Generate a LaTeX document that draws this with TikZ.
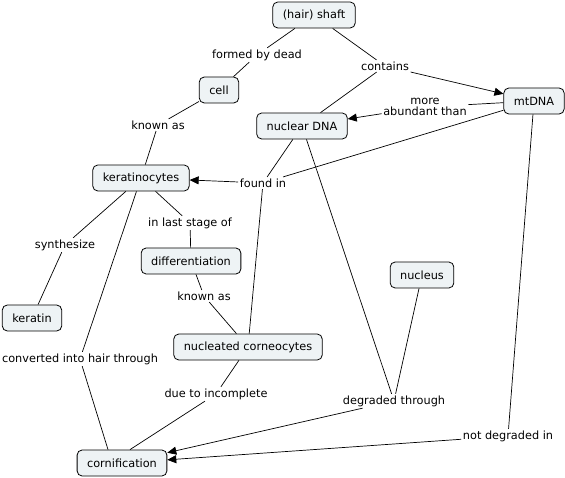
\documentclass[tikz,border=0pt]{standalone}
\usepackage{fontspec}
\setmainfont{DejaVu Sans}
\usepackage{tikz}
\usetikzlibrary{arrows.meta}

\definecolor{conceptfill}{HTML}{EEF3F5}

\begin{document}
\begin{tikzpicture}[x=1pt,y=-1pt,font=\fontsize{11.3}{13}\selectfont,
    concept/.style={draw,fill=conceptfill,rounded corners=5pt,line width=0.8pt,
      minimum height=26pt,inner xsep=10pt},
    phrase/.style={inner sep=1.5pt,align=center},
    link/.style={line width=0.7pt},
    linkto/.style={line width=0.7pt,-{Triangle[length=9pt,width=8pt]}}]
  \useasboundingbox (0,0) rectangle (565,478);

  % concepts
  \node[concept] (shaft) at (314,15) {(hair) shaft};
  \node[concept] (cell) at (219,90) {cell};
  \node[concept] (mtdna) at (534,101) {mtDNA};
  \node[concept] (ndna) at (302,126) {nuclear DNA};
  \node[concept] (kerat) at (141,178) {keratinocytes};
  \node[concept] (diff) at (191,261) {differentiation};
  \node[concept] (nucleus) at (422,275) {nucleus};
  \node[concept] (keratin) at (32,318) {keratin};
  \node[concept] (ncorneo) at (248,347) {nucleated corneocytes};
  \node[concept] (cornif) at (122,463) {cornification};

  % linking phrases
  \node[phrase] (formed) at (257,55) {formed by dead};
  \node[phrase] (contains) at (385,66) {contains};
  \node[phrase] (abundant) at (425,107) {more\\[-2pt]abundant than};
  \node[phrase] (knownA) at (158,125) {known as};
  \node[phrase] (found) at (263,183) {found in};
  \node[phrase] (laststage) at (190,223) {in last stage of};
  \node[phrase] (synth) at (65,245) {synthesize};
  \node[phrase] (knownB) at (204,296) {known as};
  \node[phrase] (converted) at (80,359) {converted into hair through};
  \node[phrase] (incomplete) at (216,394) {due to incomplete};
  \node[phrase] (degraded) at (394,401) {degraded through};
  \node[phrase] (notdeg) at (508,436) {not degraded in};

  % connections
  \draw[link] (shaft) -- (formed);
  \draw[link] (formed) -- (cell);
  \draw[link] (cell) -- (knownA);
  \draw[link] (knownA) -- (kerat);
  \draw[link] (shaft) -- (contains);
  \draw[link] (contains) -- (ndna);
  \draw[linkto] (contains) -- (mtdna);
  \draw[link] (mtdna) -- (abundant);
  \draw[linkto] (abundant) -- (ndna);
  \draw[link] (mtdna) -- (found);
  \draw[link] (ndna) -- (found);
  \draw[link] (ncorneo) -- (found);
  \draw[linkto] (found) -- (kerat);
  \draw[link] (kerat) -- (laststage);
  \draw[link] (laststage) -- (diff);
  \draw[link] (diff) -- (knownB);
  \draw[link] (knownB) -- (ncorneo);
  \draw[link] (kerat) -- (synth);
  \draw[link] (synth) -- (keratin);
  \draw[link] (kerat) -- (converted);
  \draw[link] (converted) -- ([xshift=-14pt]cornif.north);
  \draw[link] (ncorneo) -- (incomplete);
  \draw[link] (incomplete) -- ([xshift=8pt]cornif.north);
  \draw[link] (ndna) -- (degraded);
  \draw[link] (nucleus) -- (degraded);
  \draw[linkto] (degraded) -- (cornif);
  \draw[link] (mtdna) -- (notdeg);
  \draw[linkto] (notdeg) -- (cornif);
\end{tikzpicture}
\end{document}
